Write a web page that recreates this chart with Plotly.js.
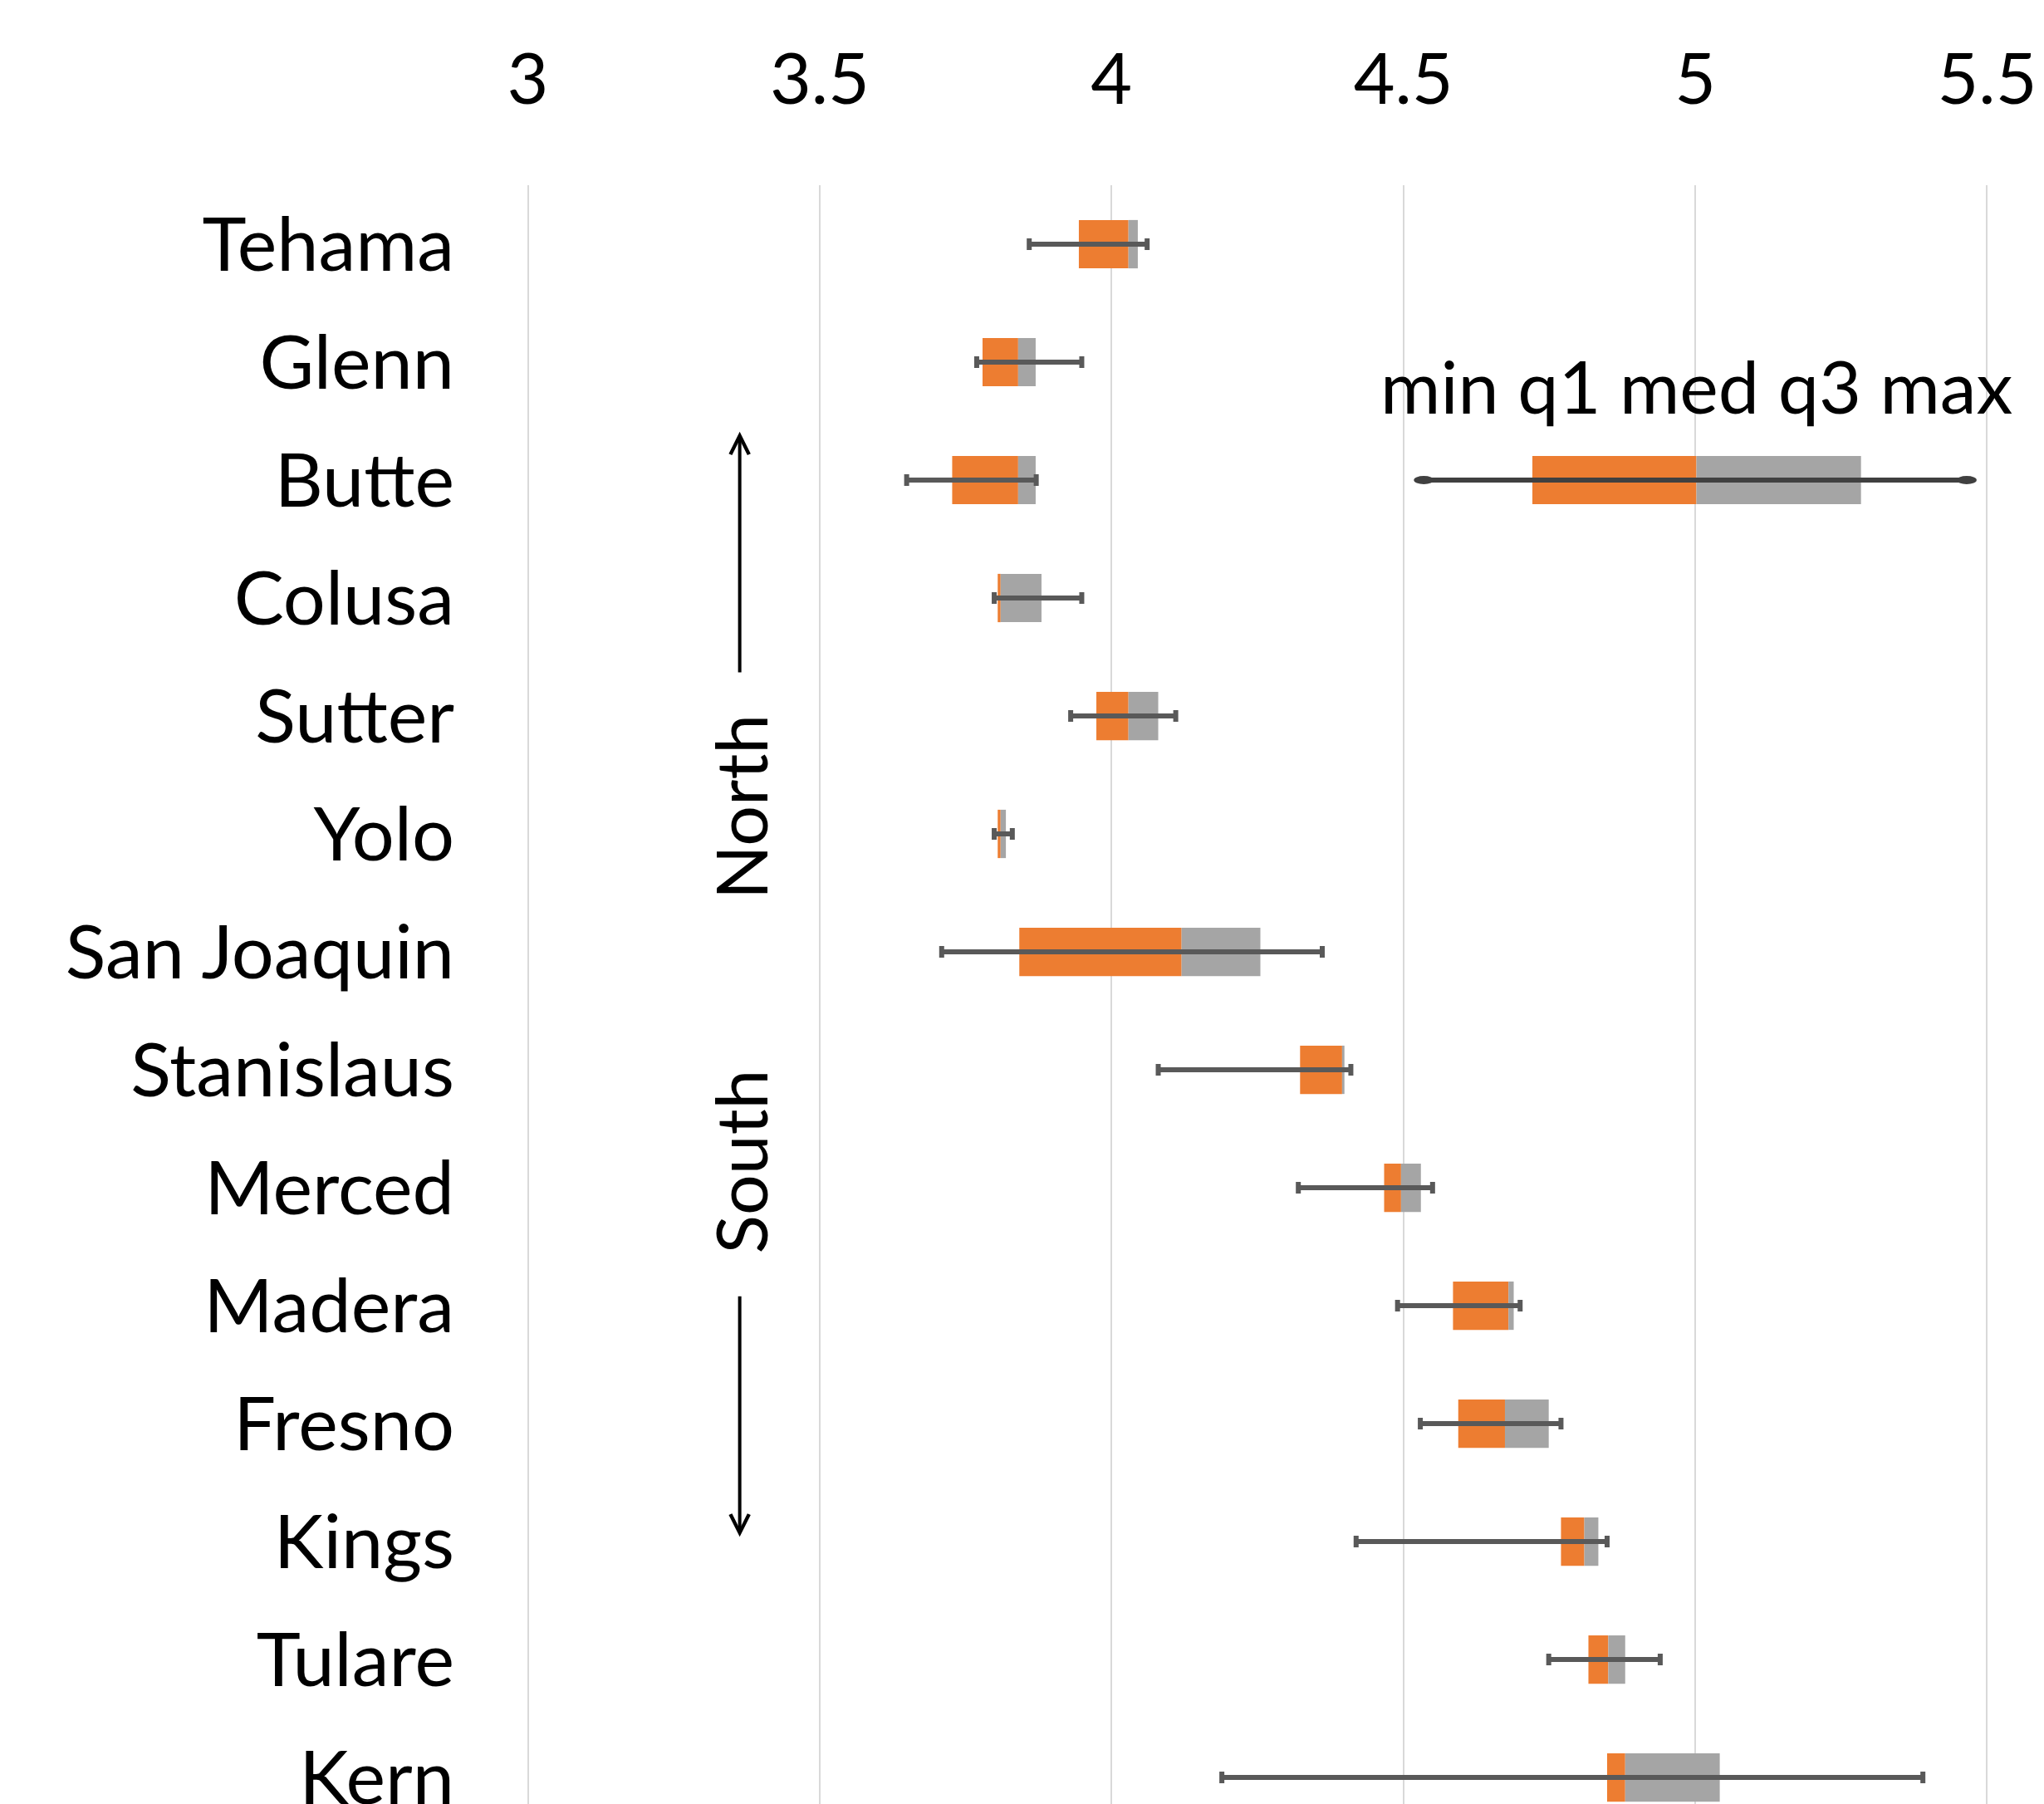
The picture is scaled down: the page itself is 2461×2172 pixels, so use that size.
<!DOCTYPE html>
<html><head><meta charset="utf-8">
<script src="https://cdn.plot.ly/plotly-3.0.1.min.js"></script>
<style>html,body{margin:0;padding:0;background:#fff;} #chart{width:2461px;height:2172px;}</style>
</head><body><div id="chart"></div>
<script>
// ---- data ----
const counties = ["Tehama","Glenn","Butte","Colusa","Sutter","Yolo","San Joaquin","Stanislaus","Merced","Madera","Fresno","Kings","Tulare","Kern"];
const minVals = [3.859, 3.769, 3.649, 3.799, 3.930, 3.799, 3.709, 4.080, 4.320, 4.490, 4.529, 4.419, 4.749, 4.189];
const q1Vals  = [3.944, 3.779, 3.727, 3.805, 3.974, 3.805, 3.842, 4.323, 4.467, 4.585, 4.594, 4.770, 4.817, 4.849];
const medVals = [4.029, 3.840, 3.840, 3.810, 4.029, 3.810, 4.120, 4.395, 4.496, 4.680, 4.674, 4.810, 4.851, 4.880];
const q3Vals  = [4.045, 3.870, 3.870, 3.880, 4.080, 3.819, 4.255, 4.399, 4.530, 4.689, 4.749, 4.834, 4.880, 5.042];
const maxVals = [4.061, 3.949, 3.871, 3.949, 4.110, 3.830, 4.361, 4.410, 4.550, 4.700, 4.770, 4.849, 4.940, 5.390];
const xTicks = [3, 3.5, 4, 4.5, 5, 5.5];
const xTickLabels = ["3", "3.5", "4", "4.5", "5", "5.5"];
// legend sample (min q1 med q3 max)
const legendLabel = "min q1 med q3 max";
const legendRow = 2;
const legMin = 4.535, legQ1 = 4.721, legMed = 5.002, legQ3 = 5.284, legMax = 5.465;
const regionLabels = ["North", "South"];

// ---- styles ----
const ORANGE = "#ED7D31", GRAY = "#A5A5A5", WHISK = "#595959";
const FONT = "Lato, 'Open Sans', sans-serif";
const rows = counties.map((c, i) => i);

const traces = [
  { type: "bar", orientation: "h", y: rows, base: q1Vals, x: q1Vals.map((v, i) => medVals[i] - v),
    width: 0.41, marker: { color: ORANGE }, hoverinfo: "skip", showlegend: false },
  { type: "bar", orientation: "h", y: rows, base: medVals, x: medVals.map((v, i) => q3Vals[i] - v),
    width: 0.41, marker: { color: GRAY }, hoverinfo: "skip", showlegend: false },
  { type: "scatter", mode: "markers", y: rows, x: medVals,
    marker: { size: 1, color: "rgba(0,0,0,0)" },
    error_x: { type: "data", symmetric: false, array: maxVals.map((v, i) => v - medVals[i]),
      arrayminus: minVals.map((v, i) => medVals[i] - v), color: WHISK, thickness: 6, width: 7 },
    hoverinfo: "skip", showlegend: false },
  // legend sample
  { type: "bar", orientation: "h", y: [legendRow], base: [legQ1], x: [legMed - legQ1],
    width: 0.41, marker: { color: ORANGE }, hoverinfo: "skip", showlegend: false },
  { type: "bar", orientation: "h", y: [legendRow], base: [legMed], x: [legQ3 - legMed],
    width: 0.41, marker: { color: GRAY }, hoverinfo: "skip", showlegend: false },
  { type: "scatter", mode: "lines", y: [legendRow, legendRow], x: [legMin, legMax],
    line: { color: "#404040", width: 6 }, hoverinfo: "skip", showlegend: false }
];

const shapes = [legMin, legMax].map(v => ({
  type: "circle", xref: "x", yref: "y", xsizemode: "pixel", ysizemode: "pixel",
  xanchor: v, yanchor: legendRow, x0: -12, x1: 12, y0: -5, y1: 5,
  fillcolor: "#404040", line: { width: 0 }
}));

const annotations = [
  { x: legMed, y: 1.2, xref: "x", yref: "y", text: legendLabel, showarrow: false,
    xanchor: "center", yanchor: "middle", font: { family: FONT, size: 88, color: "#000" } },
  { x: 3.363, y: 4.77, xref: "x", yref: "y", text: regionLabels[0], showarrow: false, textangle: -90,
    xanchor: "center", yanchor: "middle", font: { family: FONT, size: 86, color: "#000" } },
  { x: 3.363, y: 7.78, xref: "x", yref: "y", text: regionLabels[1], showarrow: false, textangle: -90,
    xanchor: "center", yanchor: "middle", font: { family: FONT, size: 86, color: "#000" } },
  { x: 3.363, y: 1.59, ax: 3.363, ay: 3.64, xref: "x", yref: "y", axref: "x", ayref: "y", text: "",
    showarrow: true, arrowhead: 5, arrowsize: 1.1, arrowwidth: 4, arrowcolor: "#000" },
  { x: 3.363, y: 10.96, ax: 3.363, ay: 8.91, xref: "x", yref: "y", axref: "x", ayref: "y", text: "",
    showarrow: true, arrowhead: 5, arrowsize: 1.1, arrowwidth: 4, arrowcolor: "#000" }
];

const layout = {
  width: 2461, height: 2172,
  margin: { l: 632, r: 65, t: 223, b: 0, pad: 0 },
  paper_bgcolor: "#fff", plot_bgcolor: "#fff",
  barmode: "overlay",
  showlegend: false,
  font: { family: FONT, color: "#000" },
  xaxis: { side: "top", range: [2.995, 5.505], tickvals: xTicks, ticktext: xTickLabels,
    showgrid: true, gridcolor: "#D9D9D9", gridwidth: 2, zeroline: false, showline: false,
    ticks: "", ticklabelstandoff: 80, ticklabeloverflow: "allow",
    tickfont: { family: FONT, size: 86, color: "#000" }, automargin: false },
  yaxis: { range: [13.225, -0.5], tickvals: rows, ticktext: counties,
    showgrid: false, zeroline: false, showline: false,
    ticks: "", ticklabelstandoff: 84, ticklabeloverflow: "allow",
    tickfont: { family: FONT, size: 90, color: "#000" }, automargin: false },
  shapes: shapes,
  annotations: annotations
};

Plotly.newPlot("chart", traces, layout, { staticPlot: true, displayModeBar: false });
</script>
</body></html>
